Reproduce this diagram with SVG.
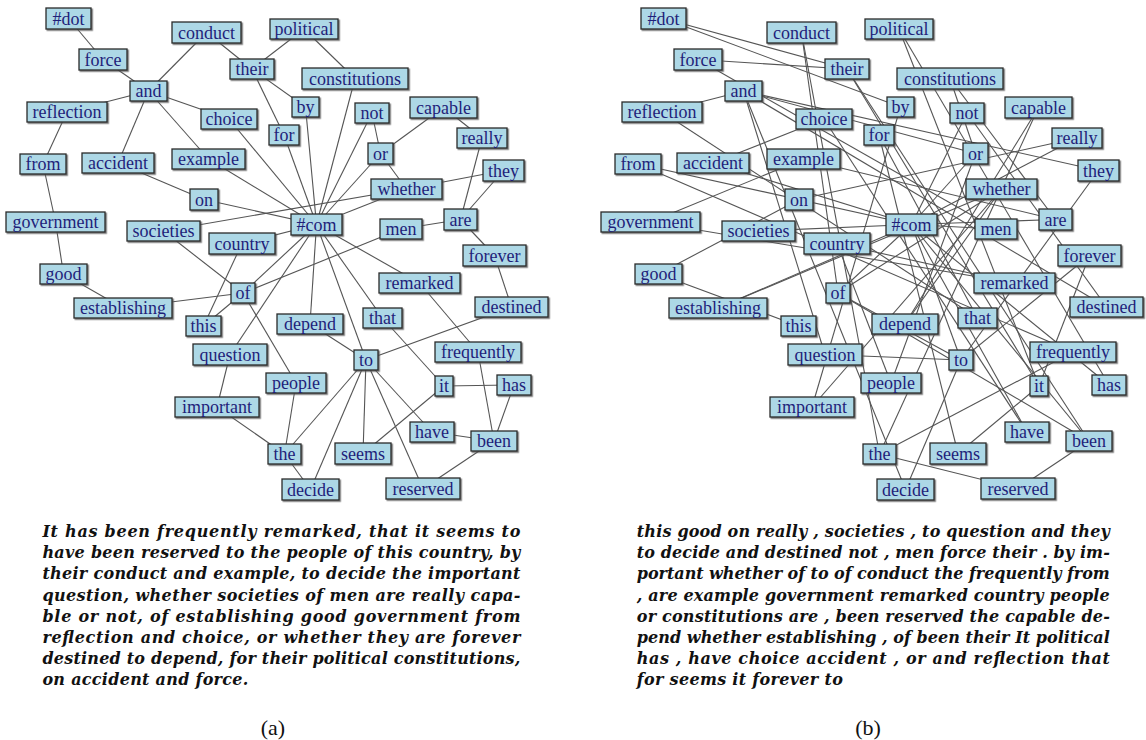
<svg xmlns="http://www.w3.org/2000/svg" width="1146" height="740" viewBox="0 0 1146 740">
<defs>
<filter id="ds" x="-10%" y="-20%" width="130%" height="160%"><feDropShadow dx="1.3" dy="1.3" stdDeviation="0.5" flood-color="#555" flood-opacity="0.8"/></filter>
<style>
.box{fill:#add8e6;stroke:#2a2a2a;stroke-width:1.3;filter:url(#ds)}
.lbl{font-family:"Liberation Serif","Times New Roman",serif;font-size:18px;fill:#1f1f7a;text-anchor:middle}
.edges line{stroke:#555;stroke-width:1.1}
.para{font-family:"DejaVu Serif",serif;font-style:italic;font-weight:bold;font-size:16px;fill:#111}
.cap{font-family:"Liberation Serif","Times New Roman",serif;font-size:22px;fill:#111;text-anchor:middle}
</style>
</defs>
<rect width="1146" height="740" fill="#fff"/>

<g id="graph-a">
<g id="a-edges" class="edges">
<line x1="444" y1="386" x2="514" y2="385"/>
<line x1="514" y1="385" x2="494" y2="441"/>
<line x1="494" y1="441" x2="478" y2="352"/>
<line x1="478" y1="352" x2="419.5" y2="283"/>
<line x1="419.5" y1="283" x2="316.5" y2="224.5"/>
<line x1="316.5" y1="224.5" x2="382.5" y2="318"/>
<line x1="382.5" y1="318" x2="444" y2="386"/>
<line x1="444" y1="386" x2="363" y2="453.5"/>
<line x1="363" y1="453.5" x2="366" y2="360"/>
<line x1="366" y1="360" x2="432" y2="432"/>
<line x1="432" y1="432" x2="494" y2="441"/>
<line x1="494" y1="441" x2="423" y2="488.5"/>
<line x1="423" y1="488.5" x2="366" y2="360"/>
<line x1="366" y1="360" x2="284.5" y2="454"/>
<line x1="284.5" y1="454" x2="296" y2="383"/>
<line x1="296" y1="383" x2="243" y2="293"/>
<line x1="243" y1="293" x2="203.5" y2="326"/>
<line x1="203.5" y1="326" x2="242" y2="243.5"/>
<line x1="242" y1="243.5" x2="316.5" y2="224.5"/>
<line x1="316.5" y1="224.5" x2="305.5" y2="107"/>
<line x1="305.5" y1="107" x2="252" y2="69"/>
<line x1="252" y1="69" x2="206.5" y2="32.5"/>
<line x1="206.5" y1="32.5" x2="148.5" y2="91"/>
<line x1="148.5" y1="91" x2="208.5" y2="159"/>
<line x1="208.5" y1="159" x2="316.5" y2="224.5"/>
<line x1="316.5" y1="224.5" x2="366" y2="360"/>
<line x1="366" y1="360" x2="310.5" y2="489.5"/>
<line x1="310.5" y1="489.5" x2="284.5" y2="454"/>
<line x1="284.5" y1="454" x2="217" y2="407"/>
<line x1="217" y1="407" x2="230" y2="354.5"/>
<line x1="230" y1="354.5" x2="316.5" y2="224.5"/>
<line x1="316.5" y1="224.5" x2="406.5" y2="189"/>
<line x1="406.5" y1="189" x2="163.5" y2="231"/>
<line x1="163.5" y1="231" x2="243" y2="293"/>
<line x1="243" y1="293" x2="401" y2="229"/>
<line x1="401" y1="229" x2="460.5" y2="219.5"/>
<line x1="460.5" y1="219.5" x2="482" y2="138"/>
<line x1="482" y1="138" x2="443.5" y2="107.5"/>
<line x1="443.5" y1="107.5" x2="380.5" y2="153.5"/>
<line x1="380.5" y1="153.5" x2="372" y2="113"/>
<line x1="372" y1="113" x2="316.5" y2="224.5"/>
<line x1="316.5" y1="224.5" x2="243" y2="293"/>
<line x1="243" y1="293" x2="123" y2="308"/>
<line x1="123" y1="308" x2="63.5" y2="274"/>
<line x1="63.5" y1="274" x2="55.5" y2="222"/>
<line x1="55.5" y1="222" x2="43" y2="164"/>
<line x1="43" y1="164" x2="67" y2="112"/>
<line x1="67" y1="112" x2="148.5" y2="91"/>
<line x1="148.5" y1="91" x2="229" y2="119"/>
<line x1="229" y1="119" x2="316.5" y2="224.5"/>
<line x1="316.5" y1="224.5" x2="380.5" y2="153.5"/>
<line x1="380.5" y1="153.5" x2="406.5" y2="189"/>
<line x1="406.5" y1="189" x2="503.5" y2="170.5"/>
<line x1="503.5" y1="170.5" x2="460.5" y2="219.5"/>
<line x1="460.5" y1="219.5" x2="494.5" y2="255.5"/>
<line x1="494.5" y1="255.5" x2="511.5" y2="307"/>
<line x1="511.5" y1="307" x2="366" y2="360"/>
<line x1="366" y1="360" x2="310" y2="324"/>
<line x1="310" y1="324" x2="316.5" y2="224.5"/>
<line x1="316.5" y1="224.5" x2="284" y2="135"/>
<line x1="284" y1="135" x2="252" y2="69"/>
<line x1="252" y1="69" x2="304" y2="29"/>
<line x1="304" y1="29" x2="355" y2="78.5"/>
<line x1="355" y1="78.5" x2="316.5" y2="224.5"/>
<line x1="316.5" y1="224.5" x2="204" y2="199.5"/>
<line x1="204" y1="199.5" x2="118" y2="163"/>
<line x1="118" y1="163" x2="148.5" y2="91"/>
<line x1="148.5" y1="91" x2="103" y2="59.5"/>
<line x1="103" y1="59.5" x2="68.5" y2="18.5"/>
</g>
<g id="a-dot"><rect class="box" x="46" y="8" width="45" height="21"/><text class="lbl" x="68.5" y="24.5">#dot</text></g>
<g id="a-conduct"><rect class="box" x="172" y="22" width="69" height="21"/><text class="lbl" x="206.5" y="38.5">conduct</text></g>
<g id="a-political"><rect class="box" x="270" y="19" width="68" height="20"/><text class="lbl" x="304" y="35">political</text></g>
<g id="a-force"><rect class="box" x="79" y="49" width="48" height="21"/><text class="lbl" x="103" y="65.5">force</text></g>
<g id="a-their"><rect class="box" x="230" y="59" width="44" height="20"/><text class="lbl" x="252" y="75">their</text></g>
<g id="a-and"><rect class="box" x="130" y="81" width="37" height="20"/><text class="lbl" x="148.5" y="97">and</text></g>
<g id="a-reflection"><rect class="box" x="27" y="102" width="80" height="20"/><text class="lbl" x="67" y="118">reflection</text></g>
<g id="a-choice"><rect class="box" x="201" y="109" width="56" height="20"/><text class="lbl" x="229" y="125">choice</text></g>
<g id="a-for"><rect class="box" x="269" y="125" width="30" height="20"/><text class="lbl" x="284" y="141">for</text></g>
<g id="a-constitutions"><rect class="box" x="302" y="68" width="106" height="21"/><text class="lbl" x="355" y="84.5">constitutions</text></g>
<g id="a-by"><rect class="box" x="292" y="97" width="27" height="20"/><text class="lbl" x="305.5" y="113">by</text></g>
<g id="a-not"><rect class="box" x="355" y="103" width="34" height="20"/><text class="lbl" x="372" y="119">not</text></g>
<g id="a-capable"><rect class="box" x="410" y="97" width="67" height="21"/><text class="lbl" x="443.5" y="113.5">capable</text></g>
<g id="a-really"><rect class="box" x="457" y="128" width="50" height="20"/><text class="lbl" x="482" y="144">really</text></g>
<g id="a-or"><rect class="box" x="368" y="143" width="25" height="21"/><text class="lbl" x="380.5" y="159.5">or</text></g>
<g id="a-they"><rect class="box" x="483" y="160" width="41" height="21"/><text class="lbl" x="503.5" y="176.5">they</text></g>
<g id="a-whether"><rect class="box" x="371" y="179" width="71" height="20"/><text class="lbl" x="406.5" y="195">whether</text></g>
<g id="a-from"><rect class="box" x="20" y="154" width="46" height="20"/><text class="lbl" x="43" y="170">from</text></g>
<g id="a-accident"><rect class="box" x="82" y="153" width="72" height="20"/><text class="lbl" x="118" y="169">accident</text></g>
<g id="a-example"><rect class="box" x="172" y="149" width="73" height="20"/><text class="lbl" x="208.5" y="165">example</text></g>
<g id="a-on"><rect class="box" x="190" y="189" width="28" height="21"/><text class="lbl" x="204" y="205.5">on</text></g>
<g id="a-government"><rect class="box" x="6" y="212" width="99" height="20"/><text class="lbl" x="55.5" y="228">government</text></g>
<g id="a-societies"><rect class="box" x="127" y="221" width="73" height="20"/><text class="lbl" x="163.5" y="237">societies</text></g>
<g id="a-country"><rect class="box" x="209" y="233" width="66" height="21"/><text class="lbl" x="242" y="249.5">country</text></g>
<g id="a-com"><rect class="box" x="291" y="214" width="51" height="21"/><text class="lbl" x="316.5" y="230.5">#com</text></g>
<g id="a-men"><rect class="box" x="380" y="219" width="42" height="20"/><text class="lbl" x="401" y="235">men</text></g>
<g id="a-are"><rect class="box" x="444" y="209" width="33" height="21"/><text class="lbl" x="460.5" y="225.5">are</text></g>
<g id="a-forever"><rect class="box" x="463" y="245" width="63" height="21"/><text class="lbl" x="494.5" y="261.5">forever</text></g>
<g id="a-good"><rect class="box" x="40" y="264" width="47" height="20"/><text class="lbl" x="63.5" y="280">good</text></g>
<g id="a-establishing"><rect class="box" x="74" y="298" width="98" height="20"/><text class="lbl" x="123" y="314">establishing</text></g>
<g id="a-of"><rect class="box" x="231" y="283" width="24" height="20"/><text class="lbl" x="243" y="299">of</text></g>
<g id="a-this"><rect class="box" x="186" y="316" width="35" height="20"/><text class="lbl" x="203.5" y="332">this</text></g>
<g id="a-question"><rect class="box" x="193" y="344" width="74" height="21"/><text class="lbl" x="230" y="360.5">question</text></g>
<g id="a-important"><rect class="box" x="175" y="397" width="84" height="20"/><text class="lbl" x="217" y="413">important</text></g>
<g id="a-people"><rect class="box" x="266" y="373" width="60" height="20"/><text class="lbl" x="296" y="389">people</text></g>
<g id="a-the"><rect class="box" x="268" y="444" width="33" height="20"/><text class="lbl" x="284.5" y="460">the</text></g>
<g id="a-decide"><rect class="box" x="282" y="479" width="57" height="21"/><text class="lbl" x="310.5" y="495.5">decide</text></g>
<g id="a-remarked"><rect class="box" x="379" y="273" width="81" height="20"/><text class="lbl" x="419.5" y="289">remarked</text></g>
<g id="a-destined"><rect class="box" x="475" y="297" width="73" height="20"/><text class="lbl" x="511.5" y="313">destined</text></g>
<g id="a-depend"><rect class="box" x="277" y="314" width="66" height="20"/><text class="lbl" x="310" y="330">depend</text></g>
<g id="a-that"><rect class="box" x="363" y="308" width="39" height="20"/><text class="lbl" x="382.5" y="324">that</text></g>
<g id="a-frequently"><rect class="box" x="435" y="342" width="86" height="20"/><text class="lbl" x="478" y="358">frequently</text></g>
<g id="a-to"><rect class="box" x="354" y="350" width="24" height="20"/><text class="lbl" x="366" y="366">to</text></g>
<g id="a-it"><rect class="box" x="435" y="376" width="18" height="20"/><text class="lbl" x="444" y="392">it</text></g>
<g id="a-has"><rect class="box" x="497" y="375" width="34" height="20"/><text class="lbl" x="514" y="391">has</text></g>
<g id="a-have"><rect class="box" x="410" y="422" width="44" height="20"/><text class="lbl" x="432" y="438">have</text></g>
<g id="a-been"><rect class="box" x="471" y="431" width="46" height="20"/><text class="lbl" x="494" y="447">been</text></g>
<g id="a-seems"><rect class="box" x="335" y="443" width="56" height="21"/><text class="lbl" x="363" y="459.5">seems</text></g>
<g id="a-reserved"><rect class="box" x="386" y="478" width="74" height="21"/><text class="lbl" x="423" y="494.5">reserved</text></g>
</g>

<g id="graph-b" transform="translate(595,0)">
<g id="b-edges" class="edges">
<line x1="203.5" y1="326" x2="63.5" y2="274"/>
<line x1="63.5" y1="274" x2="204" y2="199.5"/>
<line x1="204" y1="199.5" x2="482" y2="138"/>
<line x1="482" y1="138" x2="316.5" y2="224.5"/>
<line x1="316.5" y1="224.5" x2="163.5" y2="231"/>
<line x1="316.5" y1="224.5" x2="366" y2="360"/>
<line x1="366" y1="360" x2="230" y2="354.5"/>
<line x1="230" y1="354.5" x2="148.5" y2="91"/>
<line x1="148.5" y1="91" x2="503.5" y2="170.5"/>
<line x1="503.5" y1="170.5" x2="366" y2="360"/>
<line x1="366" y1="360" x2="310.5" y2="489.5"/>
<line x1="310.5" y1="489.5" x2="148.5" y2="91"/>
<line x1="148.5" y1="91" x2="511.5" y2="307"/>
<line x1="511.5" y1="307" x2="372" y2="113"/>
<line x1="372" y1="113" x2="316.5" y2="224.5"/>
<line x1="316.5" y1="224.5" x2="401" y2="229"/>
<line x1="401" y1="229" x2="103" y2="59.5"/>
<line x1="103" y1="59.5" x2="252" y2="69"/>
<line x1="252" y1="69" x2="68.5" y2="18.5"/>
<line x1="68.5" y1="18.5" x2="305.5" y2="107"/>
<line x1="305.5" y1="107" x2="217" y2="407"/>
<line x1="217" y1="407" x2="406.5" y2="189"/>
<line x1="406.5" y1="189" x2="243" y2="293"/>
<line x1="243" y1="293" x2="366" y2="360"/>
<line x1="243" y1="293" x2="206.5" y2="32.5"/>
<line x1="206.5" y1="32.5" x2="284.5" y2="454"/>
<line x1="284.5" y1="454" x2="478" y2="352"/>
<line x1="478" y1="352" x2="43" y2="164"/>
<line x1="43" y1="164" x2="316.5" y2="224.5"/>
<line x1="316.5" y1="224.5" x2="460.5" y2="219.5"/>
<line x1="460.5" y1="219.5" x2="208.5" y2="159"/>
<line x1="208.5" y1="159" x2="55.5" y2="222"/>
<line x1="55.5" y1="222" x2="419.5" y2="283"/>
<line x1="419.5" y1="283" x2="242" y2="243.5"/>
<line x1="242" y1="243.5" x2="296" y2="383"/>
<line x1="296" y1="383" x2="380.5" y2="153.5"/>
<line x1="380.5" y1="153.5" x2="355" y2="78.5"/>
<line x1="355" y1="78.5" x2="460.5" y2="219.5"/>
<line x1="316.5" y1="224.5" x2="494" y2="441"/>
<line x1="494" y1="441" x2="423" y2="488.5"/>
<line x1="423" y1="488.5" x2="284.5" y2="454"/>
<line x1="284.5" y1="454" x2="443.5" y2="107.5"/>
<line x1="443.5" y1="107.5" x2="310" y2="324"/>
<line x1="310" y1="324" x2="406.5" y2="189"/>
<line x1="406.5" y1="189" x2="123" y2="308"/>
<line x1="123" y1="308" x2="316.5" y2="224.5"/>
<line x1="316.5" y1="224.5" x2="243" y2="293"/>
<line x1="243" y1="293" x2="494" y2="441"/>
<line x1="494" y1="441" x2="252" y2="69"/>
<line x1="252" y1="69" x2="444" y2="386"/>
<line x1="444" y1="386" x2="304" y2="29"/>
<line x1="304" y1="29" x2="514" y2="385"/>
<line x1="514" y1="385" x2="316.5" y2="224.5"/>
<line x1="316.5" y1="224.5" x2="432" y2="432"/>
<line x1="432" y1="432" x2="229" y2="119"/>
<line x1="229" y1="119" x2="118" y2="163"/>
<line x1="118" y1="163" x2="316.5" y2="224.5"/>
<line x1="316.5" y1="224.5" x2="380.5" y2="153.5"/>
<line x1="380.5" y1="153.5" x2="148.5" y2="91"/>
<line x1="148.5" y1="91" x2="67" y2="112"/>
<line x1="67" y1="112" x2="382.5" y2="318"/>
<line x1="382.5" y1="318" x2="284" y2="135"/>
<line x1="284" y1="135" x2="363" y2="453.5"/>
<line x1="363" y1="453.5" x2="444" y2="386"/>
<line x1="444" y1="386" x2="494.5" y2="255.5"/>
<line x1="494.5" y1="255.5" x2="366" y2="360"/>
</g>
<g id="b-dot"><rect class="box" x="46" y="8" width="45" height="21"/><text class="lbl" x="68.5" y="24.5">#dot</text></g>
<g id="b-conduct"><rect class="box" x="172" y="22" width="69" height="21"/><text class="lbl" x="206.5" y="38.5">conduct</text></g>
<g id="b-political"><rect class="box" x="270" y="19" width="68" height="20"/><text class="lbl" x="304" y="35">political</text></g>
<g id="b-force"><rect class="box" x="79" y="49" width="48" height="21"/><text class="lbl" x="103" y="65.5">force</text></g>
<g id="b-their"><rect class="box" x="230" y="59" width="44" height="20"/><text class="lbl" x="252" y="75">their</text></g>
<g id="b-and"><rect class="box" x="130" y="81" width="37" height="20"/><text class="lbl" x="148.5" y="97">and</text></g>
<g id="b-reflection"><rect class="box" x="27" y="102" width="80" height="20"/><text class="lbl" x="67" y="118">reflection</text></g>
<g id="b-choice"><rect class="box" x="201" y="109" width="56" height="20"/><text class="lbl" x="229" y="125">choice</text></g>
<g id="b-for"><rect class="box" x="269" y="125" width="30" height="20"/><text class="lbl" x="284" y="141">for</text></g>
<g id="b-constitutions"><rect class="box" x="302" y="68" width="106" height="21"/><text class="lbl" x="355" y="84.5">constitutions</text></g>
<g id="b-by"><rect class="box" x="292" y="97" width="27" height="20"/><text class="lbl" x="305.5" y="113">by</text></g>
<g id="b-not"><rect class="box" x="355" y="103" width="34" height="20"/><text class="lbl" x="372" y="119">not</text></g>
<g id="b-capable"><rect class="box" x="410" y="97" width="67" height="21"/><text class="lbl" x="443.5" y="113.5">capable</text></g>
<g id="b-really"><rect class="box" x="457" y="128" width="50" height="20"/><text class="lbl" x="482" y="144">really</text></g>
<g id="b-or"><rect class="box" x="368" y="143" width="25" height="21"/><text class="lbl" x="380.5" y="159.5">or</text></g>
<g id="b-they"><rect class="box" x="483" y="160" width="41" height="21"/><text class="lbl" x="503.5" y="176.5">they</text></g>
<g id="b-whether"><rect class="box" x="371" y="179" width="71" height="20"/><text class="lbl" x="406.5" y="195">whether</text></g>
<g id="b-from"><rect class="box" x="20" y="154" width="46" height="20"/><text class="lbl" x="43" y="170">from</text></g>
<g id="b-accident"><rect class="box" x="82" y="153" width="72" height="20"/><text class="lbl" x="118" y="169">accident</text></g>
<g id="b-example"><rect class="box" x="172" y="149" width="73" height="20"/><text class="lbl" x="208.5" y="165">example</text></g>
<g id="b-on"><rect class="box" x="190" y="189" width="28" height="21"/><text class="lbl" x="204" y="205.5">on</text></g>
<g id="b-government"><rect class="box" x="6" y="212" width="99" height="20"/><text class="lbl" x="55.5" y="228">government</text></g>
<g id="b-societies"><rect class="box" x="127" y="221" width="73" height="20"/><text class="lbl" x="163.5" y="237">societies</text></g>
<g id="b-country"><rect class="box" x="209" y="233" width="66" height="21"/><text class="lbl" x="242" y="249.5">country</text></g>
<g id="b-com"><rect class="box" x="291" y="214" width="51" height="21"/><text class="lbl" x="316.5" y="230.5">#com</text></g>
<g id="b-men"><rect class="box" x="380" y="219" width="42" height="20"/><text class="lbl" x="401" y="235">men</text></g>
<g id="b-are"><rect class="box" x="444" y="209" width="33" height="21"/><text class="lbl" x="460.5" y="225.5">are</text></g>
<g id="b-forever"><rect class="box" x="463" y="245" width="63" height="21"/><text class="lbl" x="494.5" y="261.5">forever</text></g>
<g id="b-good"><rect class="box" x="40" y="264" width="47" height="20"/><text class="lbl" x="63.5" y="280">good</text></g>
<g id="b-establishing"><rect class="box" x="74" y="298" width="98" height="20"/><text class="lbl" x="123" y="314">establishing</text></g>
<g id="b-of"><rect class="box" x="231" y="283" width="24" height="20"/><text class="lbl" x="243" y="299">of</text></g>
<g id="b-this"><rect class="box" x="186" y="316" width="35" height="20"/><text class="lbl" x="203.5" y="332">this</text></g>
<g id="b-question"><rect class="box" x="193" y="344" width="74" height="21"/><text class="lbl" x="230" y="360.5">question</text></g>
<g id="b-important"><rect class="box" x="175" y="397" width="84" height="20"/><text class="lbl" x="217" y="413">important</text></g>
<g id="b-people"><rect class="box" x="266" y="373" width="60" height="20"/><text class="lbl" x="296" y="389">people</text></g>
<g id="b-the"><rect class="box" x="268" y="444" width="33" height="20"/><text class="lbl" x="284.5" y="460">the</text></g>
<g id="b-decide"><rect class="box" x="282" y="479" width="57" height="21"/><text class="lbl" x="310.5" y="495.5">decide</text></g>
<g id="b-remarked"><rect class="box" x="379" y="273" width="81" height="20"/><text class="lbl" x="419.5" y="289">remarked</text></g>
<g id="b-destined"><rect class="box" x="475" y="297" width="73" height="20"/><text class="lbl" x="511.5" y="313">destined</text></g>
<g id="b-depend"><rect class="box" x="277" y="314" width="66" height="20"/><text class="lbl" x="310" y="330">depend</text></g>
<g id="b-that"><rect class="box" x="363" y="308" width="39" height="20"/><text class="lbl" x="382.5" y="324">that</text></g>
<g id="b-frequently"><rect class="box" x="435" y="342" width="86" height="20"/><text class="lbl" x="478" y="358">frequently</text></g>
<g id="b-to"><rect class="box" x="354" y="350" width="24" height="20"/><text class="lbl" x="366" y="366">to</text></g>
<g id="b-it"><rect class="box" x="435" y="376" width="18" height="20"/><text class="lbl" x="444" y="392">it</text></g>
<g id="b-has"><rect class="box" x="497" y="375" width="34" height="20"/><text class="lbl" x="514" y="391">has</text></g>
<g id="b-have"><rect class="box" x="410" y="422" width="44" height="20"/><text class="lbl" x="432" y="438">have</text></g>
<g id="b-been"><rect class="box" x="471" y="431" width="46" height="20"/><text class="lbl" x="494" y="447">been</text></g>
<g id="b-seems"><rect class="box" x="335" y="443" width="56" height="21"/><text class="lbl" x="363" y="459.5">seems</text></g>
<g id="b-reserved"><rect class="box" x="386" y="478" width="74" height="21"/><text class="lbl" x="423" y="494.5">reserved</text></g>
</g>

<g id="text-a" class="para">
<text x="42.4" y="537" textLength="478" lengthAdjust="spacing">It has been frequently remarked, that it seems to</text>
<text x="42.4" y="558.2" textLength="478" lengthAdjust="spacing">have been reserved to the people of this country, by</text>
<text x="42.4" y="579.4" textLength="478" lengthAdjust="spacing">their conduct and example, to decide the important</text>
<text x="42.4" y="600.6" textLength="478" lengthAdjust="spacing">question, whether societies of men are really capa-</text>
<text x="42.4" y="621.8" textLength="478" lengthAdjust="spacing">ble or not, of establishing good government from</text>
<text x="42.4" y="643" textLength="478" lengthAdjust="spacing">reflection and choice, or whether they are forever</text>
<text x="42.4" y="664.2" textLength="478" lengthAdjust="spacing">destined to depend, for their political constitutions,</text>
<text x="42.4" y="685.4" textLength="206" lengthAdjust="spacing">on accident and force.</text>
</g>
<g id="text-b" class="para">
<text x="636.8" y="537" textLength="473" lengthAdjust="spacing">this good on really , societies , to question and they</text>
<text x="636.8" y="558.2" textLength="473" lengthAdjust="spacing">to decide and destined not , men force their . by im-</text>
<text x="636.8" y="579.4" textLength="473" lengthAdjust="spacing">portant whether of to of conduct the frequently from</text>
<text x="636.8" y="600.6" textLength="473" lengthAdjust="spacing">, are example government remarked country people</text>
<text x="636.8" y="621.8" textLength="473" lengthAdjust="spacing">or constitutions are , been reserved the capable de-</text>
<text x="636.8" y="643" textLength="473" lengthAdjust="spacing">pend whether establishing , of been their It political</text>
<text x="636.8" y="664.2" textLength="473" lengthAdjust="spacing">has , have choice accident , or and reflection that</text>
<text x="636.8" y="685.4" textLength="206" lengthAdjust="spacing">for seems it forever to</text>
</g>
<text id="cap-a" class="cap" x="273" y="735">(a)</text>
<text id="cap-b" class="cap" x="868" y="735">(b)</text>
</svg>
